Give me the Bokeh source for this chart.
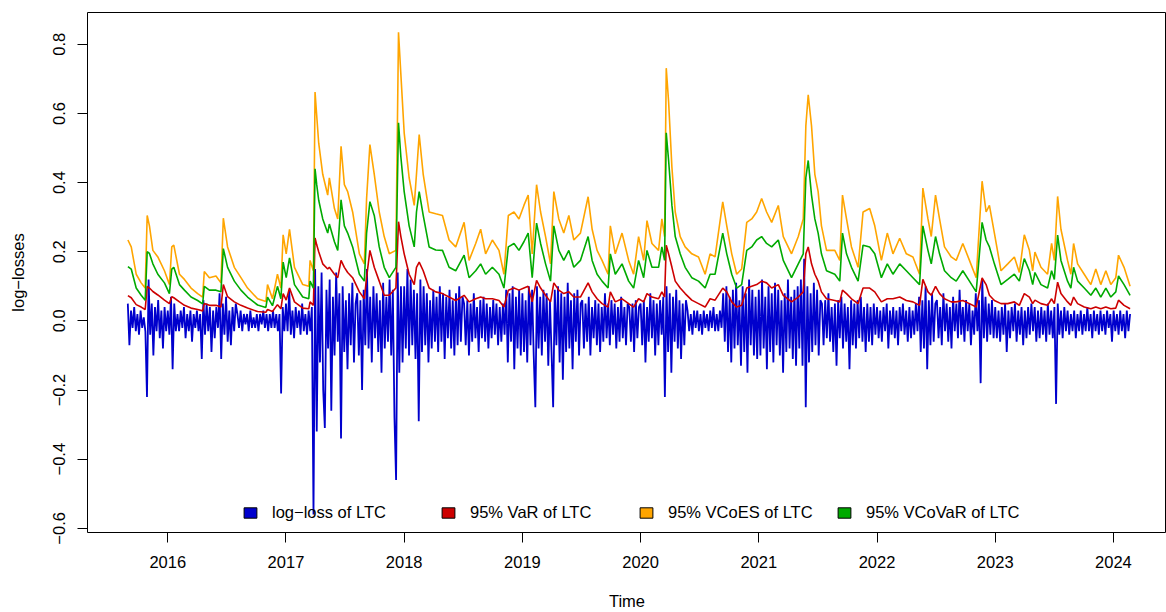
import numpy as np
from bokeh.plotting import figure
from bokeh.models import (Range1d, FixedTicker, CustomJSTickFormatter, Legend, LegendItem)
from bokeh.embed import file_html
from bokeh.resources import INLINE

FONT = "Liberation Sans"
FS = "16.5px"

# ---- log-losses of LTC (hundredths), one list per calendar year, ~5-day steps ----
loss_2015 = [5,-7,3,-2,4,-3,2,-4,3,-2,1,-3,
             -22,12,-4,5,-10,4,-3,6,-5,3,-8,4,-3]
loss_2016 = [3,-4,7,-14,5,-3,
             2,-3,3,-2,4,-5,2,-3,3,-6,2,-2,3,-3,2,
             -11,6,-4,5,-3,4,-9,3,-5,4,-2,
             8,-11,5,-4,7,-6,3,-7,4,-3,5,
             2,-2,3,-3,2,-1,2,-3,3,-2,1,-2,2,-3,2,-1,3,-2,2,-3,2,-2,3,-2,2,-3,2,
             -21,4,-3]
loss_2017 = [5,-3,9,-4,3,-5,4,-2,3,-4,5,-3,2,-4,3,-3,4,
             -56,15,-32,10,-12,14,-20,
             -31,9,-8,12,-26,7,-10,14,-6,8,-34,10,-9,6,-14,8,-7,11,-12,5,
             8,-10,6,-20,9,-7,15,-8,7,-12,10,-5,8,-9,6,-15,11,-8,7,-6,12,-10,9,-28,
             -46,14,-15,10,-12]
loss_2018 = [10,-8,15,-10,12,-7,9,-11,8,
             -29,12,-9,10,-7,8,-12,6,-8,9,-6,
             7,-9,10,-6,8,-11,7,-5,9,-8,6,-10,8,-7,10,-6,7,
             5,-7,6,-10,5,-6,8,-5,4,-9,6,-5,7,-6,5,-8,4,-5,6,-4,5,-7,4,-6,5,-4,
             9,-12,8,-6,10,-14,7,-8,9,-10]
loss_2019 = [8,-9,6,-12,10,-7,9,-10,
             -25,10,-8,
             7,-10,9,-6,8,-13,6,-9,
             -25,9,-7,10,-12,8,-17,7,-9,11,-8,6,-14,8,-6,9,-10,5,
             6,-8,5,-6,7,-10,4,-5,6,-7,5,-9,4,-6,8,-5,5,-7,6,-4,5,-8,4,-6,7,-5,4,-7,5,
             4,-6,5,-9,6,-5,4]
loss_2020 = [5,-7,6,-12,4,-6,8,-5,6,-10,5,-7,6,-4,7,
             -22,
             10,-9,8,-15,7,-6,9,-8,6,-11,5,-7,6,
             3,-3,2,-4,3,-2,3,-3,2,-4,3,-2,2,-3,3,-2,4,-3,2,-3,3,-2,
             8,-6,10,-9,7,-12,9,-8,11,-7,6,-13,10,-9,8,-15,12,-7,9,-10,7,-11]
loss_2021 = [9,-10,12,-8,7,-14,10,-9,8,-12,11,-7,9,-10,6,-15,8,-9,12,-8,7,-11,9,-13,10,-8,12,-13,18,
             -25,
             10,-12,8,-9,11,-7,9,-10,6,
             5,-7,6,-5,8,-6,4,-9,5,-13,6,-5,7,-8,5,-6,4,-14,6,-7,5,-8,6,-5,7,-6,4,-9,5,-6,4,-7,5,-4]
loss_2022 = [4,-5,3,-6,4,-3,5,-8,3,-4,4,-5,3,-7,4,-3,5,-4,3,-6,4,-5,3,-4,5,-3,
             7,-9,6,-8,10,-14,6,-7,8,-6,5,
             6,-5,4,-7,8,-3,5,-6,4,-8,7,-3,5,-5,9,-4,4,-6,6,-3,5,-7,3,-4,8,-3,6,
             -18,12,-5,7,-6,5,-4,6,-5]
loss_2023 = [4,-5,3,-6,4,-4,5,-9,3,-5,4,-3,5,-6,3,-4,4,-7,3,-5,4,-4,5,-3,4,-6,3,-5,4,-4,3,-6,5,-4,3,-5,4,
             -24,
             5,-4,3,-5,4,-3,3,-4,2,-3,3,-5,2,-3,3,-4,2,-3,4,-3,2,-5,3,-3,2,-4,3,-3,2,-4,3,-2,2,-6,3,-3,2,-4,3,-3,2,-5,3,-3,2]

loss_segments = [
    (2015.662, 2016.0, loss_2015), (2016.0, 2017.0, loss_2016), (2017.0, 2018.0, loss_2017),
    (2018.0, 2019.0, loss_2018), (2019.0, 2020.0, loss_2019), (2020.0, 2021.0, loss_2020),
    (2021.0, 2022.0, loss_2021), (2022.0, 2023.0, loss_2022), (2023.0, 2024.141, loss_2023),
]

# ---- risk measures (decimal year) ----
risk_t = [2015.663, 2015.691, 2015.733, 2015.775, 2015.809, 2015.826, 2015.845, 2015.874, 2015.916, 2015.972,
          2016.014, 2016.034, 2016.051, 2016.099, 2016.141, 2016.197, 2016.253, 2016.295, 2016.309, 2016.352,
          2016.408, 2016.450, 2016.470, 2016.506, 2016.563, 2016.619, 2016.675, 2016.760, 2016.830, 2016.844,
          2016.886, 2016.928, 2016.957, 2016.976, 2017.002, 2017.030, 2017.072, 2017.142, 2017.193, 2017.204,
          2017.232, 2017.246, 2017.260, 2017.277, 2017.311, 2017.353, 2017.367, 2017.410, 2017.438, 2017.466,
          2017.494, 2017.522, 2017.564, 2017.621, 2017.663, 2017.682, 2017.710, 2017.747, 2017.789, 2017.831,
          2017.874, 2017.930, 2017.952, 2017.972, 2018.000, 2018.042, 2018.085, 2018.104, 2018.127, 2018.161,
          2018.211, 2018.267, 2018.324, 2018.380, 2018.436, 2018.507, 2018.549, 2018.605, 2018.647, 2018.689,
          2018.746, 2018.802, 2018.844, 2018.881, 2018.929, 2018.971, 2019.013, 2019.049, 2019.083, 2019.120,
          2019.154, 2019.196, 2019.238, 2019.266, 2019.308, 2019.350, 2019.393, 2019.435, 2019.491, 2019.556,
          2019.590, 2019.632, 2019.674, 2019.725, 2019.744, 2019.786, 2019.843, 2019.899, 2019.941, 2019.983,
          2020.026, 2020.054, 2020.096, 2020.152, 2020.180, 2020.203, 2020.217, 2020.237, 2020.265, 2020.293,
          2020.335, 2020.377, 2020.433, 2020.490, 2020.546, 2020.588, 2020.630, 2020.695, 2020.729, 2020.771,
          2020.813, 2020.855, 2020.898, 2020.940, 2020.982, 2021.024, 2021.066, 2021.109, 2021.165, 2021.207,
          2021.277, 2021.334, 2021.376, 2021.398, 2021.418, 2021.446, 2021.474, 2021.502, 2021.530, 2021.573,
          2021.643, 2021.685, 2021.708, 2021.742, 2021.784, 2021.840, 2021.882, 2021.938, 2021.981, 2022.037,
          2022.087, 2022.135, 2022.192, 2022.248, 2022.304, 2022.360, 2022.388, 2022.431, 2022.459, 2022.495,
          2022.529, 2022.571, 2022.628, 2022.670, 2022.726, 2022.782, 2022.839, 2022.889, 2022.923, 2022.951,
          2022.993, 2023.049, 2023.106, 2023.162, 2023.204, 2023.246, 2023.289, 2023.317, 2023.336, 2023.387,
          2023.443, 2023.477, 2023.500, 2023.528, 2023.556, 2023.612, 2023.640, 2023.663, 2023.697, 2023.753,
          2023.809, 2023.851, 2023.893, 2023.936, 2023.978, 2024.020, 2024.043, 2024.090, 2024.141]

vcoes95 = [0.234,0.214,0.135,0.110,0.095,0.305,0.275,0.204,0.185,0.145,
           0.105,0.214,0.219,0.135,0.120,0.095,0.079,0.069,0.143,0.125,
           0.130,0.110,0.297,0.214,0.155,0.125,0.095,0.064,0.056,0.105,
           0.064,0.135,0.095,0.249,0.194,0.265,0.155,0.105,0.100,0.175,
           0.145,0.662,0.594,0.514,0.424,0.364,0.414,0.325,0.295,0.505,
           0.394,0.374,0.315,0.194,0.165,0.354,0.510,0.424,0.315,0.244,
           0.194,0.204,0.835,0.713,0.544,0.414,0.334,0.424,0.539,0.424,
           0.315,0.310,0.305,0.234,0.214,0.285,0.175,0.224,0.265,0.194,
           0.234,0.204,0.135,0.305,0.315,0.295,0.334,0.364,0.194,0.394,
           0.315,0.244,0.165,0.374,0.295,0.254,0.305,0.234,0.254,0.359,
           0.265,0.204,0.175,0.135,0.275,0.194,0.254,0.175,0.135,0.244,
           0.175,0.290,0.224,0.204,0.295,0.244,0.731,0.634,0.444,0.315,
           0.244,0.214,0.194,0.185,0.135,0.194,0.185,0.344,0.275,0.194,
           0.135,0.150,0.285,0.295,0.315,0.354,0.315,0.285,0.334,0.244,
           0.194,0.244,0.295,0.564,0.654,0.564,0.424,0.374,0.275,0.204,
           0.204,0.175,0.364,0.295,0.214,0.155,0.315,0.325,0.275,0.175,
           0.254,0.194,0.239,0.194,0.185,0.135,0.384,0.295,0.244,0.364,
           0.295,0.214,0.185,0.175,0.224,0.175,0.125,0.404,0.315,0.334,
           0.254,0.145,0.165,0.185,0.140,0.249,0.204,0.145,0.199,0.155,
           0.135,0.224,0.175,0.360,0.265,0.175,0.135,0.224,0.165,0.135,
           0.105,0.150,0.105,0.145,0.105,0.125,0.190,0.155,0.100]

vcovar95 = [0.157,0.150,0.095,0.074,0.060,0.200,0.195,0.165,0.135,0.110,
            0.079,0.150,0.155,0.105,0.089,0.069,0.059,0.049,0.100,0.089,
            0.089,0.084,0.209,0.155,0.115,0.089,0.069,0.046,0.039,0.069,
            0.044,0.100,0.064,0.170,0.125,0.182,0.105,0.069,0.064,0.115,
            0.095,0.440,0.394,0.349,0.295,0.254,0.280,0.229,0.204,0.350,
            0.275,0.254,0.214,0.135,0.115,0.254,0.345,0.305,0.214,0.155,
            0.125,0.155,0.573,0.474,0.374,0.275,0.214,0.315,0.374,0.305,
            0.214,0.205,0.204,0.155,0.145,0.190,0.125,0.145,0.165,0.135,
            0.155,0.135,0.095,0.214,0.224,0.204,0.229,0.254,0.125,0.283,
            0.224,0.165,0.115,0.275,0.204,0.175,0.204,0.155,0.175,0.244,
            0.175,0.135,0.115,0.095,0.194,0.135,0.165,0.115,0.095,0.175,
            0.125,0.204,0.155,0.155,0.214,0.175,0.544,0.464,0.334,0.244,
            0.194,0.155,0.125,0.115,0.095,0.135,0.135,0.254,0.194,0.135,
            0.095,0.105,0.204,0.214,0.234,0.244,0.224,0.214,0.234,0.175,
            0.125,0.165,0.194,0.414,0.464,0.364,0.295,0.254,0.194,0.145,
            0.135,0.115,0.254,0.194,0.155,0.115,0.219,0.214,0.194,0.125,
            0.165,0.135,0.165,0.145,0.125,0.105,0.275,0.204,0.165,0.244,
            0.194,0.145,0.125,0.115,0.145,0.115,0.084,0.285,0.234,0.214,
            0.165,0.105,0.120,0.135,0.115,0.180,0.145,0.105,0.140,0.105,
            0.095,0.145,0.120,0.248,0.175,0.115,0.095,0.155,0.115,0.095,
            0.074,0.095,0.069,0.095,0.069,0.084,0.130,0.105,0.074]

var95 = [0.073,0.067,0.047,0.040,0.033,0.100,0.095,0.085,0.075,0.060,
         0.050,0.070,0.067,0.055,0.045,0.037,0.033,0.029,0.050,0.045,
         0.045,0.040,0.105,0.070,0.055,0.045,0.037,0.027,0.025,0.033,
         0.027,0.047,0.035,0.079,0.060,0.095,0.055,0.037,0.035,0.055,
         0.045,0.240,0.220,0.200,0.165,0.150,0.155,0.135,0.125,0.175,
         0.155,0.140,0.125,0.084,0.064,0.125,0.204,0.155,0.115,0.074,
         0.074,0.095,0.287,0.244,0.194,0.135,0.105,0.155,0.170,0.145,
         0.095,0.084,0.079,0.069,0.059,0.074,0.055,0.064,0.069,0.064,
         0.064,0.059,0.040,0.089,0.095,0.089,0.095,0.100,0.055,0.117,
         0.095,0.074,0.055,0.110,0.089,0.079,0.084,0.069,0.069,0.110,
         0.084,0.064,0.050,0.040,0.084,0.055,0.064,0.050,0.040,0.064,
         0.055,0.079,0.069,0.064,0.084,0.069,0.219,0.194,0.155,0.115,
         0.095,0.079,0.060,0.050,0.040,0.064,0.060,0.095,0.084,0.055,
         0.040,0.045,0.095,0.100,0.105,0.115,0.110,0.095,0.105,0.074,
         0.055,0.069,0.084,0.194,0.214,0.165,0.135,0.115,0.084,0.064,
         0.059,0.055,0.089,0.079,0.064,0.050,0.095,0.095,0.084,0.055,
         0.064,0.064,0.069,0.059,0.055,0.045,0.120,0.084,0.074,0.100,
         0.079,0.064,0.055,0.055,0.059,0.050,0.040,0.124,0.105,0.074,
         0.059,0.050,0.050,0.055,0.045,0.079,0.069,0.050,0.060,0.050,
         0.045,0.064,0.050,0.112,0.079,0.055,0.045,0.069,0.050,0.040,
         0.035,0.040,0.035,0.040,0.035,0.037,0.060,0.045,0.035]

year_ticks = [2016, 2017, 2018, 2019, 2020, 2021, 2022, 2023, 2024]
y_ticks = [-0.6, -0.4, -0.2, 0.0, 0.2, 0.4, 0.6, 0.8]

labels = ["log\u2212loss of LTC", "95% VaR of LTC", "95% VCoES of LTC", "95% VCoVaR of LTC"]
colors = ["#0000CD", "#CD0000", "#FFA500", "#00AA00"]

# ---- build loss x/y ----
lx, ly = [], []
for i, (a, b, vals) in enumerate(loss_segments):
    last = i == len(loss_segments) - 1
    lx.extend(np.linspace(a, b, len(vals), endpoint=last).tolist())
    ly.extend((np.array(vals) / 100.0).tolist())

p = figure(width=1166, height=612, output_backend="svg", toolbar_location=None,
           x_range=Range1d(2015.321, 2024.449), y_range=Range1d(-0.612, 0.892),
           min_border_left=87, min_border_right=0, min_border_top=12, min_border_bottom=79,
           background_fill_color="white", border_fill_color="white")
p.outline_line_color = "black"
p.outline_line_width = 1
p.grid.visible = False

p.line(lx, ly, line_color=colors[0], line_width=1.8)
p.line(risk_t, var95, line_color=colors[1], line_width=1.6)
p.line(risk_t, vcoes95, line_color=colors[2], line_width=1.6)
p.line(risk_t, vcovar95, line_color=colors[3], line_width=1.6)

for ax in (p.xaxis[0], p.yaxis[0]):
    ax.axis_line_color = None
    ax.major_tick_line_color = "black"
    ax.major_tick_out = 10
    ax.major_tick_in = 0
    ax.minor_tick_line_color = None
    ax.major_label_text_font = FONT
    ax.major_label_text_font_size = FS
    ax.major_label_text_color = "black"
    ax.axis_label_text_font = FONT
    ax.axis_label_text_font_size = FS
    ax.axis_label_text_font_style = "normal"
    ax.axis_label_text_color = "black"

p.xaxis.ticker = FixedTicker(ticks=year_ticks)
p.xaxis.formatter = CustomJSTickFormatter(code="return tick.toFixed(0);")
p.xaxis.major_label_standoff = 13
p.xaxis.axis_label = "Time"
p.xaxis.axis_label_standoff = 21

p.yaxis.ticker = FixedTicker(ticks=y_ticks)
p.yaxis.formatter = CustomJSTickFormatter(
    code="return (tick < -1e-9 ? '\u2212' : '') + Math.abs(tick).toFixed(1);")
p.yaxis.major_label_orientation = "vertical"
p.yaxis.major_label_standoff = 12
p.yaxis.axis_label = "log\u2212losses"
p.yaxis.axis_label_standoff = 24

# legend proxies (filled boxes; NaN data so nothing is drawn in the plot)
nan = float("nan")
items = []
for lab, c in zip(labels, colors):
    r = p.quad(left=[nan], right=[nan], top=[nan], bottom=[nan],
               fill_color=c, line_color="black", line_width=1)
    items.append(LegendItem(label=lab, renderers=[r]))

legend = Legend(items=items, orientation="horizontal", location=(155, 10),
                glyph_width=16, glyph_height=13, label_standoff=14, label_width=160,
                spacing=8, padding=0, margin=0, border_line_color=None,
                background_fill_alpha=0, label_text_font=FONT, label_text_font_size=FS,
                label_text_color="black")
p.add_layout(legend)

open("out.html", "w").write(file_html(p, INLINE))
